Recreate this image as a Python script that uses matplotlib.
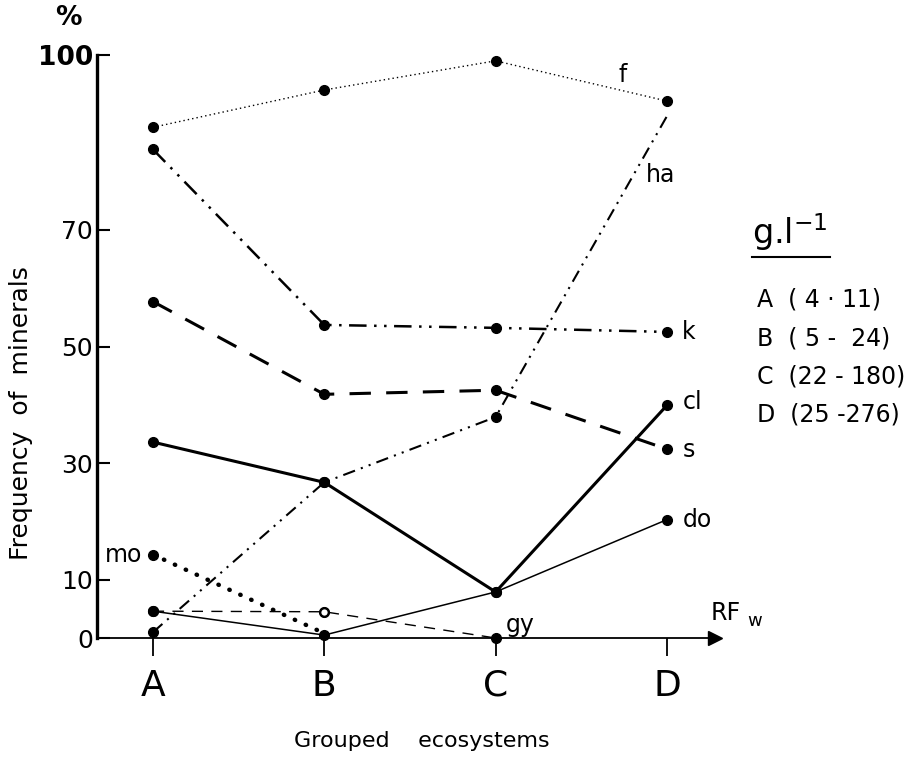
import numpy as np
import matplotlib.pyplot as plt
from matplotlib.lines import Line2D

# grouped ecosystems (RFw axis) and mineral frequencies (%)
groups = ['A', 'B', 'C', 'D']
f_vals = [87.6, 94.0, 99.0, 92.1]
k_vals = [83.8, 53.7, 53.2, 52.5]
s_vals = [57.7, 41.8, 42.5, 32.4]
cl_vals = [33.6, 26.7, 7.9, 39.9]
ha_vals = [1.0, 26.7, 37.9, 89.5]
do_vals = [4.6, 0.5, 7.9, 20.3]
gy_vals = [4.6, 4.5, 0.0]
mo_vals = [14.3, 0.8]
yticks = [0, 10, 30, 50, 70, 100]
legend_lines = ['A  ( 4 \u00b7 11)', 'B  ( 5 -  24)', 'C  (22 - 180)', 'D  (25 -276)']

plt.rcParams['font.family'] = ['DejaVu Sans']

fig = plt.figure(figsize=(9.19, 7.58), dpi=100)
ax = fig.add_axes([97/919, 1-638/758, (715-97)/919, (638-55)/758])

x = np.arange(len(groups))

# series
ax.plot(x, f_vals, color='k', lw=1.0, ls=(0, (1, 2.2)), marker='o', ms=7, clip_on=False)
ax.plot(x, k_vals, color='k', lw=1.8, ls=(0, (7, 3, 1, 3, 1, 3)), marker='o', ms=7, clip_on=False)
ax.plot(x, s_vals, color='k', lw=2.2, ls=(0, (7, 5)), marker='o', ms=7, clip_on=False)
ax.plot(x, cl_vals, color='k', lw=2.2, ls='-', marker='o', ms=7, clip_on=False)
ax.plot(x, ha_vals, color='k', lw=1.5, ls=(0, (6, 3, 1, 3, 1, 3)), marker='o', ms=7,
        markevery=[0, 1, 2], clip_on=False)
ax.plot(x, do_vals, color='k', lw=1.1, ls='-', marker='o', ms=7, clip_on=False)
ax.plot(x[:3], gy_vals, color='k', lw=1.0, ls=(0, (8, 6)), marker='o', ms=7, clip_on=False)
ax.plot([x[1]], [gy_vals[1]], marker='o', ms=6, mfc='white', mec='k', mew=1.5, clip_on=False)
ax.plot(x[:2], mo_vals, color='k', lw=3.2, ls=(0, (0.1, 2.6)), dash_capstyle='round',
        marker='o', ms=7, markevery=[0], clip_on=False)

# series labels
lab_kw = dict(fontsize=17, va='center')
ax.text(2.72, 96.5, 'f', **lab_kw)
ax.text(2.88, 79.4, 'ha', **lab_kw)
ax.text(3.09, 52.5, 'k', **lab_kw)
ax.text(3.09, 40.5, 'cl', **lab_kw)
ax.text(3.09, 32.3, 's', **lab_kw)
ax.text(3.09, 20.3, 'do', **lab_kw)
ax.text(-0.065, 14.3, 'mo', ha='right', **lab_kw)
ax.text(2.06, 2.3, 'gy', **lab_kw)

# axes styling
ax.set_xlim(-56/171.3, (715-153)/171.3)
ax.set_ylim(0, 100)
for side in ['top', 'right']:
    ax.spines[side].set_visible(False)
ax.spines['left'].set_linewidth(2.4)
ax.spines['bottom'].set_linewidth(1.3)
ax.plot([1], [0], marker='>', ms=10, color='k', transform=ax.transAxes, clip_on=False)

ax.set_xticks(x)
ax.set_xticklabels(groups, fontsize=26)
ax.tick_params(axis='x', direction='out', length=13, width=1.3, pad=9)
ax.set_yticks(yticks)
ax.set_yticklabels([str(t) for t in yticks], fontsize=18)
ax.get_yticklabels()[-1].set_fontweight('bold')
ax.get_yticklabels()[-1].set_fontsize(19)
ax.tick_params(axis='y', direction='in', length=9, width=1.5, pad=3)

ax.set_ylabel('Frequency  of  minerals', fontsize=18)
ax.yaxis.set_label_coords(-0.103, 0.386)
ax.set_xlabel('Grouped    ecosystems', fontsize=16)
ax.xaxis.set_label_coords(0.526, -0.16)
fig.text(68/919, 1-18/758, '%', fontsize=19, fontweight='bold', ha='center', va='center')
fig.text(711/919, 1-613/758, 'RF', fontsize=17, ha='left', va='center')
fig.text(747/919, 1-621/758, 'w', fontsize=13, ha='left', va='center')

# concentration legend
fig.text(752/919, 1-232/758, r'g.l$^{-1}$', fontsize=24, ha='left', va='center')
fig.add_artist(Line2D([752/919, 830/919], [1-257/758, 1-257/758], color='k', lw=1.5))
for i, txt in enumerate(legend_lines):
    fig.text(757/919, 1-(300 + 38.3*i)/758, txt, fontsize=17, ha='left', va='center')

fig.savefig('out.png', dpi=100)
